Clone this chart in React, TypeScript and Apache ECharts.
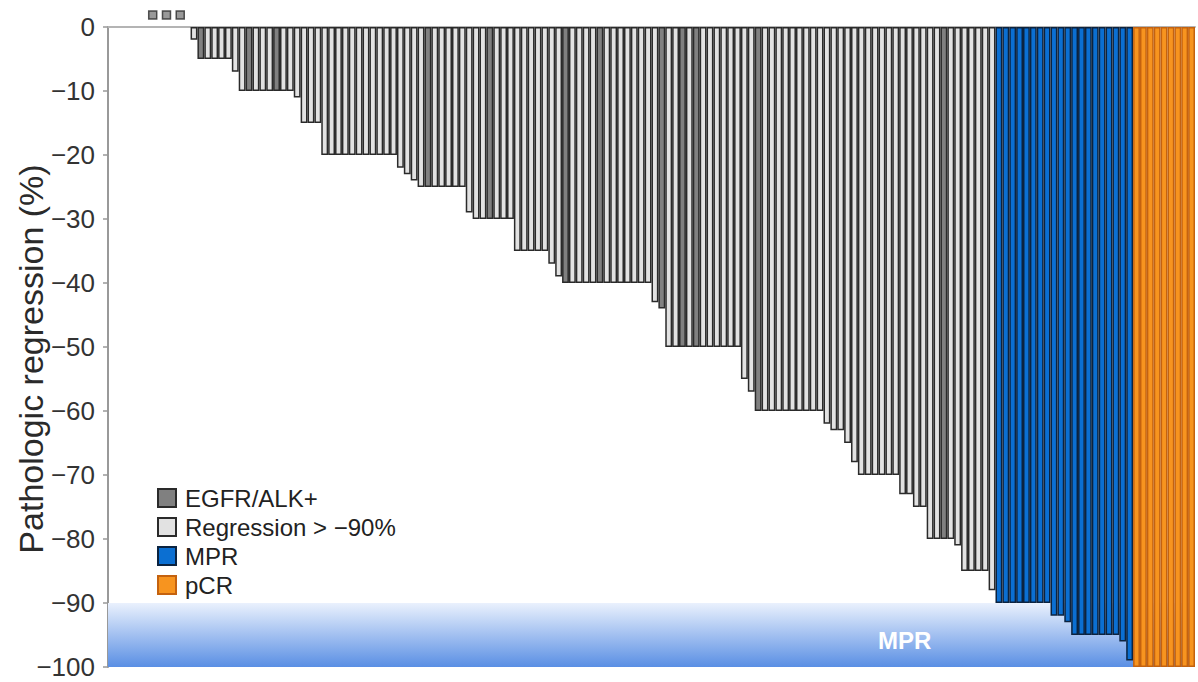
import React, { useEffect, useRef } from "react";
import * as echarts from "echarts";

// Regression (%) of the non-MPR patients, sorted (grey bars)
const grayValues: number[] = [
  -2,
  -5, -5, -5, -5, -5,
  -7,
  -10, -10, -10, -10, -10, -10, -10, -10,
  -11,
  -15, -15, -15,
  -20, -20, -20, -20, -20, -20, -20, -20, -20, -20, -20,
  -22, -23, -24,
  -25, -25, -25, -25, -25, -25, -25,
  -29,
  -30, -30, -30, -30, -30, -30,
  -35, -35, -35, -35, -35,
  -37, -39,
  -40, -40, -40, -40, -40, -40, -40, -40, -40, -40, -40, -40, -40,
  -43, -44,
  -50, -50, -50, -50, -50, -50, -50, -50, -50, -50, -50,
  -55, -57,
  -60, -60, -60, -60, -60, -60, -60, -60, -60, -60,
  -62, -63, -63, -65, -68,
  -70, -70, -70, -70, -70, -70,
  -73, -73, -75, -75,
  -80, -80, -80, -80,
  -81,
  -85, -85, -85, -85,
  -88,
];

// positions (within grayValues) of EGFR/ALK+ patients (dark grey)
const egfrIndices: number[] = [1, 8, 12, 34, 43, 54, 59, 68, 71, 73, 82, 109];

// MPR patients (blue)
const mprValues: number[] = [
  -90, -90, -90, -90, -90, -90, -90, -90,
  -92, -92, -93,
  -95, -95, -95, -95, -95, -95, -95,
  -96, -99,
];

// pCR patients (orange)
const pcrValues: number[] = [-100, -100, -100, -100, -100, -100, -100, -100, -100];

// empty slots at the left of the axis, and the slots of patients without data (small squares)
const leadingSlots = 12;
const noDataSlots: number[] = [6, 8, 10];

const yTickValues: number[] = [0, -10, -20, -30, -40, -50, -60, -70, -80, -90, -100];

const seriesNames = ["EGFR/ALK+", "Regression > \u221290%", "MPR", "pCR"];

const FONT = "'Liberation Sans', Arial, sans-serif";

export default function App() {
  const ref = useRef<HTMLDivElement>(null);

  useEffect(() => {
    if (!ref.current) return;
    const chart = echarts.init(ref.current, undefined, { renderer: "svg" });

    const total = leadingSlots + grayValues.length + mprValues.length + pcrValues.length;
    const categories: string[] = [];
    for (let i = 0; i < total; i++) categories.push("S" + (i + 1));

    const egfrSet = new Set(egfrIndices);
    const egfrData: (number | string)[] = new Array(total).fill("-");
    const grayData: (number | string)[] = new Array(total).fill("-");
    const mprData: (number | string)[] = new Array(total).fill("-");
    const pcrData: (number | string)[] = new Array(total).fill("-");
    grayValues.forEach((v, i) => {
      const slot = leadingSlots + i;
      if (egfrSet.has(i)) egfrData[slot] = v;
      else grayData[slot] = v;
    });
    mprValues.forEach((v, i) => {
      mprData[leadingSlots + grayValues.length + i] = v;
    });
    pcrValues.forEach((v, i) => {
      pcrData[leadingSlots + grayValues.length + mprValues.length + i] = v;
    });

    const option: any = {
      animation: false,
      backgroundColor: "#ffffff",
      grid: {
        left: 108,
        right: 3,
        top: 27,
        bottom: 15,
        containLabel: false,
        outerBoundsMode: "none",
      },
      legend: {
        data: seriesNames,
        orient: "vertical",
        left: 152,
        top: 481,
        itemWidth: 18,
        itemHeight: 18,
        itemGap: 5,
        icon: "rect",
        textStyle: { fontSize: 24, color: "#222", fontFamily: FONT, padding: [0, 0, 0, 4] },
        selectedMode: false,
      },
      xAxis: {
        type: "category",
        data: categories,
        axisLine: { show: true, onZero: true, lineStyle: { color: "#b4b4b4", width: 2 } },
        axisTick: { show: false },
        axisLabel: { show: false },
        splitLine: { show: false },
      },
      yAxis: {
        type: "value",
        min: -100,
        max: 0,
        interval: 10,
        name: "Pathologic regression (%)",
        nameLocation: "middle",
        nameGap: 60,
        nameMoveOverlap: false,
        nameTextStyle: {
          fontSize: 34,
          color: "#2a2a2a",
          fontFamily: FONT,
          padding: [0, 24, 0, 0],
        },
        axisLine: { show: true, lineStyle: { color: "#999", width: 2 } },
        axisTick: { show: true, length: 5, inside: false, lineStyle: { color: "#999", width: 1.5 } },
        axisLabel: {
          fontSize: 26,
          color: "#333",
          fontFamily: FONT,
          margin: 13,
          formatter: (v: number) =>
            yTickValues.includes(v) ? (v < 0 ? "\u2212" + Math.abs(v) : String(v)) : "",
        },
        splitLine: { show: false },
      },
      series: [
        {
          name: seriesNames[0],
          type: "bar",
          stack: "all",
          z: 3,
          barCategoryGap: 0,
          data: egfrData,
          itemStyle: { color: "#808080", borderColor: "#2a2a2a", borderWidth: 1.5 },
        },
        {
          name: seriesNames[1],
          type: "bar",
          stack: "all",
          z: 3,
          barCategoryGap: 0,
          data: grayData,
          itemStyle: { color: "#e2e2e2", borderColor: "#2a2a2a", borderWidth: 1.5 },
          markArea: {
            silent: true,
            z: 1,
            itemStyle: {
              color: new echarts.graphic.LinearGradient(0, 0, 0, 1, [
                { offset: 0, color: "#eaf1fd" },
                { offset: 1, color: "#5a8fe4" },
              ]),
            },
            label: {
              show: true,
              position: ["73.3%", "58%"],
              align: "center",
              verticalAlign: "middle",
              color: "#ffffff",
              fontWeight: "bold",
              fontSize: 24,
              fontFamily: FONT,
            },
            data: [[{ name: "MPR", yAxis: -90 }, { yAxis: -100 }]],
          },
        },
        {
          name: seriesNames[2],
          type: "bar",
          stack: "all",
          z: 3,
          barCategoryGap: 0,
          data: mprData,
          itemStyle: { color: "#0b6fd2", borderColor: "#0b2340", borderWidth: 1.5 },
        },
        {
          name: seriesNames[3],
          type: "bar",
          stack: "all",
          z: 3,
          barCategoryGap: 0,
          data: pcrData,
          itemStyle: { color: "#f7941f", borderColor: "#c4620f", borderWidth: 1.5 },
        },
        {
          name: "No data",
          type: "scatter",
          z: 4,
          clip: false,
          symbol: "rect",
          symbolSize: 8,
          symbolOffset: [0, -12],
          data: noDataSlots.map((s) => [s, 0]),
          itemStyle: { color: "#808080", borderColor: "#2a2a2a", borderWidth: 1.5 },
        },
      ],
    };

    chart.setOption(option);
    return () => chart.dispose();
  }, []);

  return (
    <div
      ref={ref}
      style={{ position: "fixed", left: 0, top: 0, width: 1198, height: 682 }}
    />
  );
}
